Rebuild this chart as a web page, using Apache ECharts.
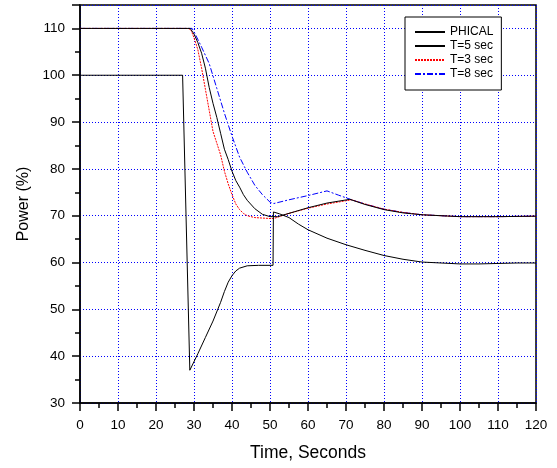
<!DOCTYPE html>
<html><head><meta charset="utf-8">
<script src="https://cdn.jsdelivr.net/npm/echarts@6/dist/echarts.min.js"></script>
<style>html,body{margin:0;padding:0;background:#fff}#c{width:557px;height:468px}</style>
</head><body><div id="c"></div>
<script>
var seriesNames = ['PHICAL', 'T=5 sec', 'T=3 sec', 'T=8 sec'];

var phicalX = [0, 27.0, 28.9, 31, 33, 35, 37, 38, 39, 40, 41, 42, 44, 47, 50.8, 50.9, 52.5, 55, 57.5, 60, 65, 70, 75, 80, 85, 90, 95, 100, 105, 110, 115, 120];
var phicalY = [100, 100, 37, 40.5, 44, 47.5, 51.5, 53.8, 55.8, 57.2, 58.2, 58.8, 59.3, 59.4, 59.4, 70.8, 70.4, 69.6, 68.2, 67, 65.2, 63.8, 62.6, 61.5, 60.7, 60.1, 59.9, 59.7, 59.7, 59.8, 59.9, 59.9];

var t5X = [0, 29, 30, 31, 32, 33, 34, 35, 36, 37, 38, 39, 40, 41, 42, 43, 44, 46, 48, 50, 52, 55, 60, 65, 71, 75, 80, 85, 90, 95, 100, 110, 120];
var t5Y = [110, 110, 108.8, 107, 104.7, 101.5, 97.4, 94, 91, 87.6, 84.2, 82, 79.5, 77.5, 76.1, 74.5, 73.3, 71.5, 70.3, 69.8, 69.8, 70.5, 71.7, 72.7, 73.5, 72.4, 71.3, 70.6, 70.2, 70, 69.8, 69.8, 69.9];

var t3X = [0, 28.5, 29.3, 30, 31, 32, 33, 34, 35, 36, 37, 38, 39, 40, 41, 42, 43, 44, 46, 48, 50, 51, 55, 60, 65, 71.5, 75, 80, 85, 90, 95, 100, 110, 120];
var t3Y = [110, 110, 109.5, 108, 105.5, 101.5, 97, 92.5, 88, 85.5, 83, 79.5, 76.8, 74.5, 72.5, 71.3, 70.5, 70, 69.6, 69.5, 69.4, 69.4, 70.5, 71.6, 72.5, 73.4, 72.5, 71.4, 70.7, 70.2, 70, 69.8, 69.8, 69.9];

var t8X = [0, 29.5, 30.5, 32, 34, 36, 38, 40, 42, 44, 46, 48, 50, 51, 55, 60, 65, 68, 71.5, 75, 80, 85, 90, 95, 100, 110, 120];
var t8Y = [110, 110, 108.5, 106, 102.5, 97.2, 91.9, 87, 82.5, 79.3, 76.5, 74.5, 72.9, 72.6, 73.4, 74.3, 75.3, 74.4, 73.4, 72.5, 71.4, 70.7, 70.2, 70, 69.8, 69.8, 69.9];

var xTicks = [0, 120, 10];
var yTicks = [30, 115, 10];

function zip(a, b) { return a.map(function (v, i) { return [v, b[i]]; }); }

var FONT = '"Liberation Sans", Arial, sans-serif';
var chart = echarts.init(document.getElementById('c'), null, { renderer: 'canvas' });

function axisCommon() {
  return {
    axisLine: { show: true, onZero: false, lineStyle: { color: '#000', width: 1.5 } },
    axisTick: { show: true, inside: false, length: 8, lineStyle: { color: '#000', width: 1.5 } },
    minorTick: { show: true, splitNumber: 2, length: 5, lineStyle: { color: '#000', width: 1.5 } },
    splitLine: { show: true, lineStyle: { color: '#0000ff', type: [1, 2], width: 1 } },
    axisLabel: { color: '#000', fontSize: 13.5, fontFamily: FONT },
    nameTextStyle: { color: '#000', fontSize: 16, fontFamily: FONT }
  };
}

var xa = axisCommon();
xa.type = 'value'; xa.min = xTicks[0]; xa.max = xTicks[1]; xa.interval = xTicks[2];
xa.name = 'Time, Seconds'; xa.nameLocation = 'middle'; xa.nameGap = 41;
xa.nameTextStyle.fontSize = 17.5;
xa.axisLabel.margin = 15;

var ya = axisCommon();
ya.type = 'value'; ya.min = yTicks[0]; ya.max = yTicks[1]; ya.interval = yTicks[2];
ya.name = 'Power (%)'; ya.nameLocation = 'middle'; ya.nameGap = 48;
ya.axisLabel.formatter = function (v) { return v % 10 === 0 ? String(v) : ''; };
ya.axisLabel.margin = 15;

var styles = [
  { color: '#000', type: 'solid', width: 1 },
  { color: '#000', type: 'solid', width: 1 },
  { color: '#ff0000', type: [2, 1], width: 1 },
  { color: '#0000ff', type: [6, 2, 2, 2], width: 1 }
];
var datas = [zip(phicalX, phicalY), zip(t5X, t5Y), zip(t3X, t3Y), zip(t8X, t8Y)];

chart.setOption({
  animation: false,
  backgroundColor: '#fff',
  textStyle: { fontFamily: FONT },
  grid: { left: 80, right: 21, top: 5, bottom: 65, show: true, borderColor: '#000', borderWidth: 1.5, backgroundColor: 'transparent' },
  legend: {
    orient: 'vertical', left: 405, top: 17,
    data: seriesNames,
    itemWidth: 30, itemHeight: 12, itemGap: 2,
    itemStyle: { opacity: 0 },
    borderColor: '#000', borderWidth: 1, backgroundColor: '#fff',
    padding: [9, 8, 10, 9],
    textStyle: { color: '#000', fontSize: 12, lineHeight: 12, fontFamily: FONT }
  },
  xAxis: xa,
  yAxis: ya,
  series: seriesNames.map(function (n, i) {
    return {
      name: n, type: 'line', data: datas[i], showSymbol: false, symbol: 'none',
      lineStyle: styles[i], itemStyle: { color: styles[i].color }, z: 10 - i
    };
  })
});
</script></body></html>
